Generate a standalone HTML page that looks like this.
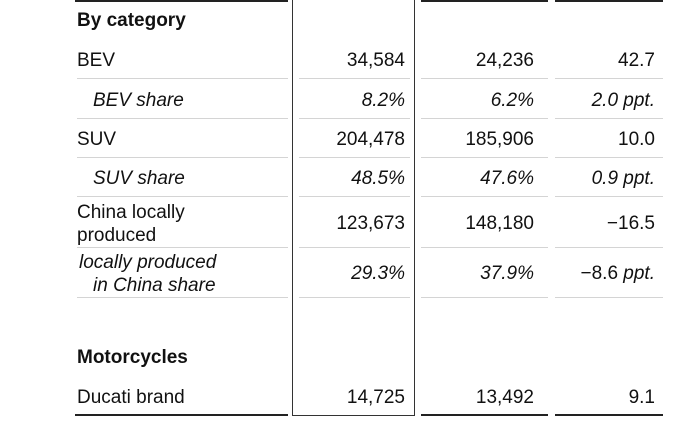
<!DOCTYPE html>
<html><head><style>
body{margin:0;width:700px;height:435px;background:#fff;position:relative;overflow:hidden;font-family:"Liberation Sans",sans-serif;color:#111;font-size:19px}
.t{position:absolute;white-space:nowrap;line-height:22px;margin-top:1px}
.r{text-align:right}
.i{font-style:italic}
.h{position:absolute;height:1px;background:#d4d4d4}
.k{position:absolute;background:#222}
</style></head><body>
<div class="k" style="left:75px;top:0;width:213px;height:2px"></div>
<div class="k" style="left:421px;top:0;width:127px;height:2px"></div>
<div class="k" style="left:555px;top:0;width:108px;height:2px"></div>
<div style="position:absolute;left:292px;top:-2px;width:121px;height:417px;border:1.5px solid #333;border-top:none"></div>
<div class="k" style="left:75px;top:414px;width:213px;height:2px"></div>
<div class="k" style="left:421px;top:414px;width:127px;height:2px"></div>
<div class="k" style="left:555px;top:414px;width:108px;height:2px"></div>
<div class="h" style="left:77px;top:78px;width:211px"></div><div class="h" style="left:299px;top:78px;width:111px"></div><div class="h" style="left:421px;top:78px;width:127px"></div><div class="h" style="left:555px;top:78px;width:108px"></div>
<div class="h" style="left:77px;top:118px;width:211px"></div><div class="h" style="left:299px;top:118px;width:111px"></div><div class="h" style="left:421px;top:118px;width:127px"></div><div class="h" style="left:555px;top:118px;width:108px"></div>
<div class="h" style="left:77px;top:157px;width:211px"></div><div class="h" style="left:299px;top:157px;width:111px"></div><div class="h" style="left:421px;top:157px;width:127px"></div><div class="h" style="left:555px;top:157px;width:108px"></div>
<div class="h" style="left:77px;top:196px;width:211px"></div><div class="h" style="left:299px;top:196px;width:111px"></div><div class="h" style="left:421px;top:196px;width:127px"></div><div class="h" style="left:555px;top:196px;width:108px"></div>
<div class="h" style="left:77px;top:247px;width:211px"></div><div class="h" style="left:299px;top:247px;width:111px"></div><div class="h" style="left:421px;top:247px;width:127px"></div><div class="h" style="left:555px;top:247px;width:108px"></div>
<div class="h" style="left:77px;top:297px;width:211px"></div><div class="h" style="left:299px;top:297px;width:111px"></div><div class="h" style="left:421px;top:297px;width:127px"></div><div class="h" style="left:555px;top:297px;width:108px"></div>
<div class="t" style="left:77px;top:9px;font-weight:bold">By category</div>
<div class="t" style="left:77px;top:49px">BEV</div>
<div class="t i" style="left:93px;top:89px">BEV share</div>
<div class="t" style="left:77px;top:128px">SUV</div>
<div class="t i" style="left:93px;top:167px">SUV share</div>
<div class="t" style="left:77px;top:201px">China locally</div>
<div class="t" style="left:77px;top:224px">produced</div>
<div class="t i" style="left:79px;top:251px">locally produced</div>
<div class="t i" style="left:93px;top:274px">in China share</div>
<div class="t" style="left:77px;top:346px;font-weight:bold">Motorcycles</div>
<div class="t" style="left:77px;top:386px">Ducati brand</div>
<div class="t r" style="right:295px;top:49px">34,584</div>
<div class="t r i" style="right:295px;top:89px">8.2%</div>
<div class="t r" style="right:295px;top:128px">204,478</div>
<div class="t r i" style="right:295px;top:167px">48.5%</div>
<div class="t r" style="right:295px;top:212px">123,673</div>
<div class="t r i" style="right:295px;top:262px">29.3%</div>
<div class="t r" style="right:295px;top:386px">14,725</div>
<div class="t r" style="right:166px;top:49px">24,236</div>
<div class="t r i" style="right:166px;top:89px">6.2%</div>
<div class="t r" style="right:166px;top:128px">185,906</div>
<div class="t r i" style="right:166px;top:167px">47.6%</div>
<div class="t r" style="right:166px;top:212px">148,180</div>
<div class="t r i" style="right:166px;top:262px">37.9%</div>
<div class="t r" style="right:166px;top:386px">13,492</div>
<div class="t r" style="right:45px;top:49px">42.7</div>
<div class="t r i" style="right:45px;top:89px">2.0 ppt.</div>
<div class="t r" style="right:45px;top:128px">10.0</div>
<div class="t r i" style="right:45px;top:167px">0.9 ppt.</div>
<div class="t r" style="right:45px;top:212px">−16.5</div>
<div class="t r" style="right:45px;top:262px">−8.6 <i>ppt.</i></div>
<div class="t r" style="right:45px;top:386px">9.1</div>
</body></html>
